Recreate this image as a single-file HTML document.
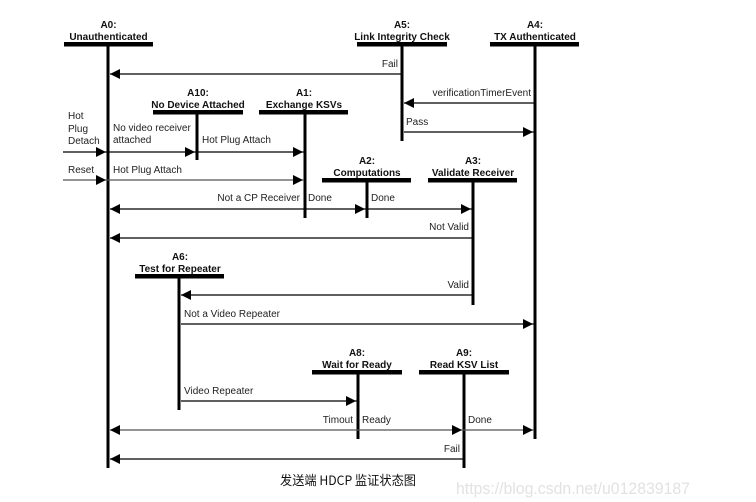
<!DOCTYPE html>
<html>
<head>
<meta charset="utf-8">
<style>
html,body{margin:0;padding:0;background:#fff;}
svg{display:block;}
.b{font-family:"Liberation Sans",Arial,sans-serif;font-weight:bold;font-size:10px;fill:#111;}
.r{font-family:"Liberation Sans",Arial,sans-serif;font-size:10px;fill:#222;}
</style>
</head>
<body>
<svg width="756" height="502" viewBox="0 0 756 502" xmlns="http://www.w3.org/2000/svg">
<rect width="756" height="502" fill="#fff"/>

<!-- state bars -->
<g fill="#000">
<rect x="64" y="42" width="89" height="4.5"/>
<rect x="357" y="42" width="90" height="4.5"/>
<rect x="490" y="42" width="89" height="4.5"/>
<rect x="153" y="110" width="90" height="4.5"/>
<rect x="259" y="110" width="89" height="4.5"/>
<rect x="322" y="178" width="89" height="4.5"/>
<rect x="428" y="178" width="89" height="4.5"/>
<rect x="135" y="274" width="89" height="4.5"/>
<rect x="312" y="370" width="90" height="4.5"/>
<rect x="419" y="370" width="90" height="4.5"/>
</g>

<!-- lifelines -->
<g stroke="#000" stroke-width="3">
<line x1="108" y1="44" x2="108" y2="468"/>
<line x1="402" y1="44" x2="402" y2="141"/>
<line x1="535" y1="44" x2="535" y2="439"/>
<line x1="197" y1="112" x2="197" y2="160"/>
<line x1="305" y1="112" x2="305" y2="218"/>
<line x1="367" y1="180" x2="367" y2="218"/>
<line x1="473" y1="180" x2="473" y2="305"/>
<line x1="179" y1="276" x2="179" y2="410"/>
<line x1="358" y1="372" x2="358" y2="439"/>
<line x1="464" y1="372" x2="464" y2="468"/>
</g>

<!-- state labels -->
<g class="b" text-anchor="middle">
<text x="108.5" y="28">A0:</text><text x="108.5" y="40">Unauthenticated</text>
<text x="402" y="28">A5:</text><text x="402" y="40">Link Integrity Check</text>
<text x="535" y="28">A4:</text><text x="535" y="40">TX Authenticated</text>
<text x="198" y="96">A10:</text><text x="198" y="108">No Device Attached</text>
<text x="304" y="96">A1:</text><text x="304" y="108">Exchange KSVs</text>
<text x="367" y="164">A2:</text><text x="367" y="176">Computations</text>
<text x="473" y="164">A3:</text><text x="473" y="176">Validate Receiver</text>
<text x="180" y="260">A6:</text><text x="180" y="272">Test for Repeater</text>
<text x="357" y="356">A8:</text><text x="357" y="368">Wait for Ready</text>
<text x="464" y="356">A9:</text><text x="464" y="368">Read KSV List</text>
</g>

<!-- connector lines -->
<g stroke="#000" stroke-width="1.2">
<line x1="110" y1="74" x2="402" y2="74"/>
<line x1="404" y1="103" x2="534" y2="103"/>
<line x1="404" y1="132" x2="534" y2="132"/>
<line x1="63" y1="152" x2="304" y2="152"/>
<line x1="110" y1="209" x2="472" y2="209"/>
<line x1="110" y1="238" x2="473" y2="238"/>
<line x1="181" y1="295" x2="473" y2="295"/>
<line x1="181" y1="324" x2="534" y2="324"/>
<line x1="181" y1="401" x2="357" y2="401"/>
<line x1="110" y1="459" x2="464" y2="459"/>
</g>
<g stroke="#555" stroke-width="1.3">
<line x1="63" y1="180" x2="304" y2="180"/>
<line x1="110" y1="430" x2="534" y2="430"/>
</g>

<!-- arrowheads -->
<g fill="#000">
<!-- left-pointing -->
<polygon points="110,74 120,69 120,79"/>
<polygon points="404,103 414,98 414,108"/>
<polygon points="110,209 120,204 120,214"/>
<polygon points="110,238 120,233 120,243"/>
<polygon points="181,295 191,290 191,300"/>
<polygon points="110,430 120,425 120,435"/>
<polygon points="110,459 120,454 120,464"/>
<!-- right-pointing -->
<polygon points="533,132 523,127 523,137"/>
<polygon points="106,152 96,147 96,157"/>
<polygon points="195,152 185,147 185,157"/>
<polygon points="303,152 293,147 293,157"/>
<polygon points="106,180 96,175 96,185"/>
<polygon points="303,180 293,175 293,185"/>
<polygon points="365,209 355,204 355,214"/>
<polygon points="471,209 461,204 461,214"/>
<polygon points="533,324 523,319 523,329"/>
<polygon points="356,401 346,396 346,406"/>
<polygon points="462,430 452,425 452,435"/>
<polygon points="533,430 523,425 523,435"/>
</g>

<!-- connector labels -->
<g class="r">
<text x="398" y="67" text-anchor="end">Fail</text>
<text x="531" y="96" text-anchor="end">verificationTimerEvent</text>
<text x="406" y="125">Pass</text>
<text x="68" y="119">Hot</text>
<text x="68" y="132">Plug</text>
<text x="68" y="144">Detach</text>
<text x="113" y="131">No video receiver</text>
<text x="113" y="143">attached</text>
<text x="202" y="143">Hot Plug Attach</text>
<text x="68" y="173">Reset</text>
<text x="113" y="173">Hot Plug Attach</text>
<text x="300" y="201" text-anchor="end">Not a CP Receiver</text>
<text x="308" y="201">Done</text>
<text x="371" y="201">Done</text>
<text x="469" y="230" text-anchor="end">Not Valid</text>
<text x="469" y="288" text-anchor="end">Valid</text>
<text x="184" y="317">Not a Video Repeater</text>
<text x="184" y="394">Video Repeater</text>
<text x="353" y="423" text-anchor="end">Timout</text>
<text x="362" y="423">Ready</text>
<text x="468" y="423">Done</text>
<text x="460" y="452" text-anchor="end">Fail</text>
</g>

<!-- caption -->
<text x="280" y="485" font-family="'WenQuanYi Zen Hei','Noto Sans CJK SC',sans-serif" font-size="13" fill="#111" textLength="136" lengthAdjust="spacingAndGlyphs">发送端 HDCP 监证状态图</text>

<!-- watermark -->
<text x="456" y="494" font-family="'Liberation Sans',Arial,sans-serif" font-size="17" fill="#e2e2e2" textLength="234" lengthAdjust="spacingAndGlyphs">https://blog.csdn.net/u012839187</text>
</svg>
</body>
</html>
